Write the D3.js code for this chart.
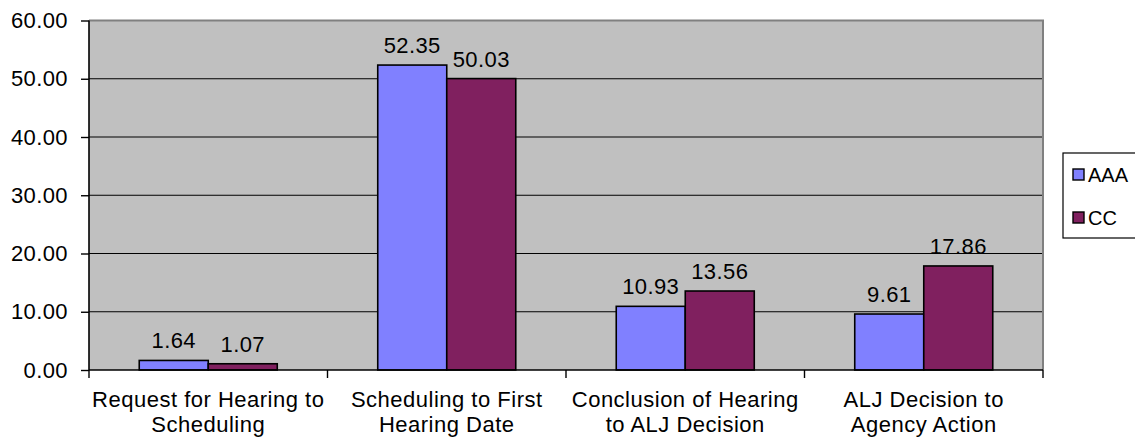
<!DOCTYPE html>
<html><head><meta charset="utf-8">
<script src="https://cdn.jsdelivr.net/npm/d3@7"></script>
<style>
body{margin:0;background:#fff;}
svg text{font-family:"Liberation Sans",Arial,sans-serif;fill:#000;}
</style></head>
<body><svg id="c" width="1135" height="438"></svg>
<script>
const categories = [
  ["Request for Hearing to","Scheduling"],
  ["Scheduling to First","Hearing Date"],
  ["Conclusion of Hearing","to ALJ Decision"],
  ["ALJ Decision to","Agency Action"]
];
const seriesNames = ["AAA","CC"];
const aaaValues = [1.64, 52.35, 10.93, 9.61];
const ccValues = [1.07, 50.03, 13.56, 17.86];
const yTicks = [0,10,20,30,40,50,60];
const colors = ["#8080FF","#80205F"];

const svg = d3.select("#c");
const L=89, R=1043, T=20.5, B=370;
const catKeys = categories.map((d,i)=>i);
const x0 = d3.scaleBand().domain(catKeys).range([L,R]).padding(0);
const x1 = d3.scaleBand().domain(seriesNames).range([0,x0.bandwidth()]).paddingInner(0).paddingOuter(0.728);
const y = d3.scaleLinear().domain([0,60]).range([B,T]);

// plot bg
svg.append("rect").attr("x",L).attr("y",T).attr("width",R-L).attr("height",B-T).attr("fill","#C0C0C0");
// gridlines
svg.append("g").selectAll("line").data(yTicks.filter(v=>v>0 && v<60)).join("line")
  .attr("x1",L).attr("x2",R).attr("y1",d=>y(d)).attr("y2",d=>y(d))
  .attr("stroke","#000").attr("stroke-width",1.2);
// plot border top/right
svg.append("path").attr("d",`M${L},${T}H${R}V${B}`).attr("fill","none").attr("stroke","#808080").attr("stroke-width",2);

// bars
const data = catKeys.map(i=>({i, vals:[aaaValues[i],ccValues[i]]}));
const g = svg.append("g").selectAll("g").data(data).join("g").attr("transform",d=>`translate(${x0(d.i)},0)`);
g.selectAll("rect").data(d=>d.vals.map((v,k)=>({k,v}))).join("rect")
  .attr("x",d=>x1(seriesNames[d.k])).attr("width",x1.bandwidth())
  .attr("y",d=>y(d.v)).attr("height",d=>B-y(d.v))
  .attr("fill",d=>colors[d.k]).attr("stroke","#000").attr("stroke-width",1.6);
g.selectAll("text").data(d=>d.vals.map((v,k)=>({k,v}))).join("text")
  .attr("x",d=>x1(seriesNames[d.k])+x1.bandwidth()/2).attr("y",d=>y(d.v)-12)
  .attr("text-anchor","middle").attr("font-size",22).attr("letter-spacing","0.4px")
  .text(d=>d.v.toFixed(2));

// y axis
const yAxis = svg.append("g").attr("transform",`translate(${L},0)`)
  .call(d3.axisLeft(y).tickValues(yTicks).tickSize(8).tickPadding(13).tickFormat(d=>d.toFixed(2)));
yAxis.select(".domain").attr("stroke","#000").attr("stroke-width",1.6).attr("d",`M0,${T}V${B}`);
yAxis.selectAll(".tick line").attr("stroke","#000").attr("stroke-width",1.4);
yAxis.selectAll(".tick text").attr("font-size",22).attr("letter-spacing","0.4px").attr("font-family","Liberation Sans, Arial, sans-serif").attr("fill","#000");

// x axis
const bounds = catKeys.map(i=>x0(i)).concat([R]);
svg.append("line").attr("x1",L).attr("x2",R).attr("y1",B).attr("y2",B).attr("stroke","#000").attr("stroke-width",1.6);
svg.append("g").selectAll("line").data(bounds).join("line")
  .attr("x1",d=>d).attr("x2",d=>d).attr("y1",B).attr("y2",B+8).attr("stroke","#000").attr("stroke-width",1.4);
const xl = svg.append("g").selectAll("text").data(catKeys).join("text")
  .attr("x",i=>x0(i)+x0.bandwidth()/2).attr("y",407)
  .attr("text-anchor","middle").attr("font-size",22).attr("letter-spacing","0.5px");
xl.selectAll("tspan").data(i=>categories[i]).join("tspan")
  .attr("x",function(){return d3.select(this.parentNode).attr("x");})
  .attr("dy",(d,k)=>k===0?0:24.5).text(d=>d);

// legend
const lg = svg.append("g");
lg.append("rect").attr("x",1063).attr("y",153).attr("width",80).attr("height",85).attr("fill","#fff").attr("stroke","#000").attr("stroke-width",1.2);
const li = lg.selectAll("g").data(seriesNames).join("g").attr("transform",(d,k)=>`translate(1073,${174+k*43})`);
li.append("rect").attr("x",0).attr("y",-5).attr("width",11).attr("height",11).attr("fill",(d,k)=>colors[k]).attr("stroke","#000").attr("stroke-width",1.4);
li.append("text").attr("x",15).attr("y",7.5).attr("font-size",20).text(d=>d);
</script></body></html>
